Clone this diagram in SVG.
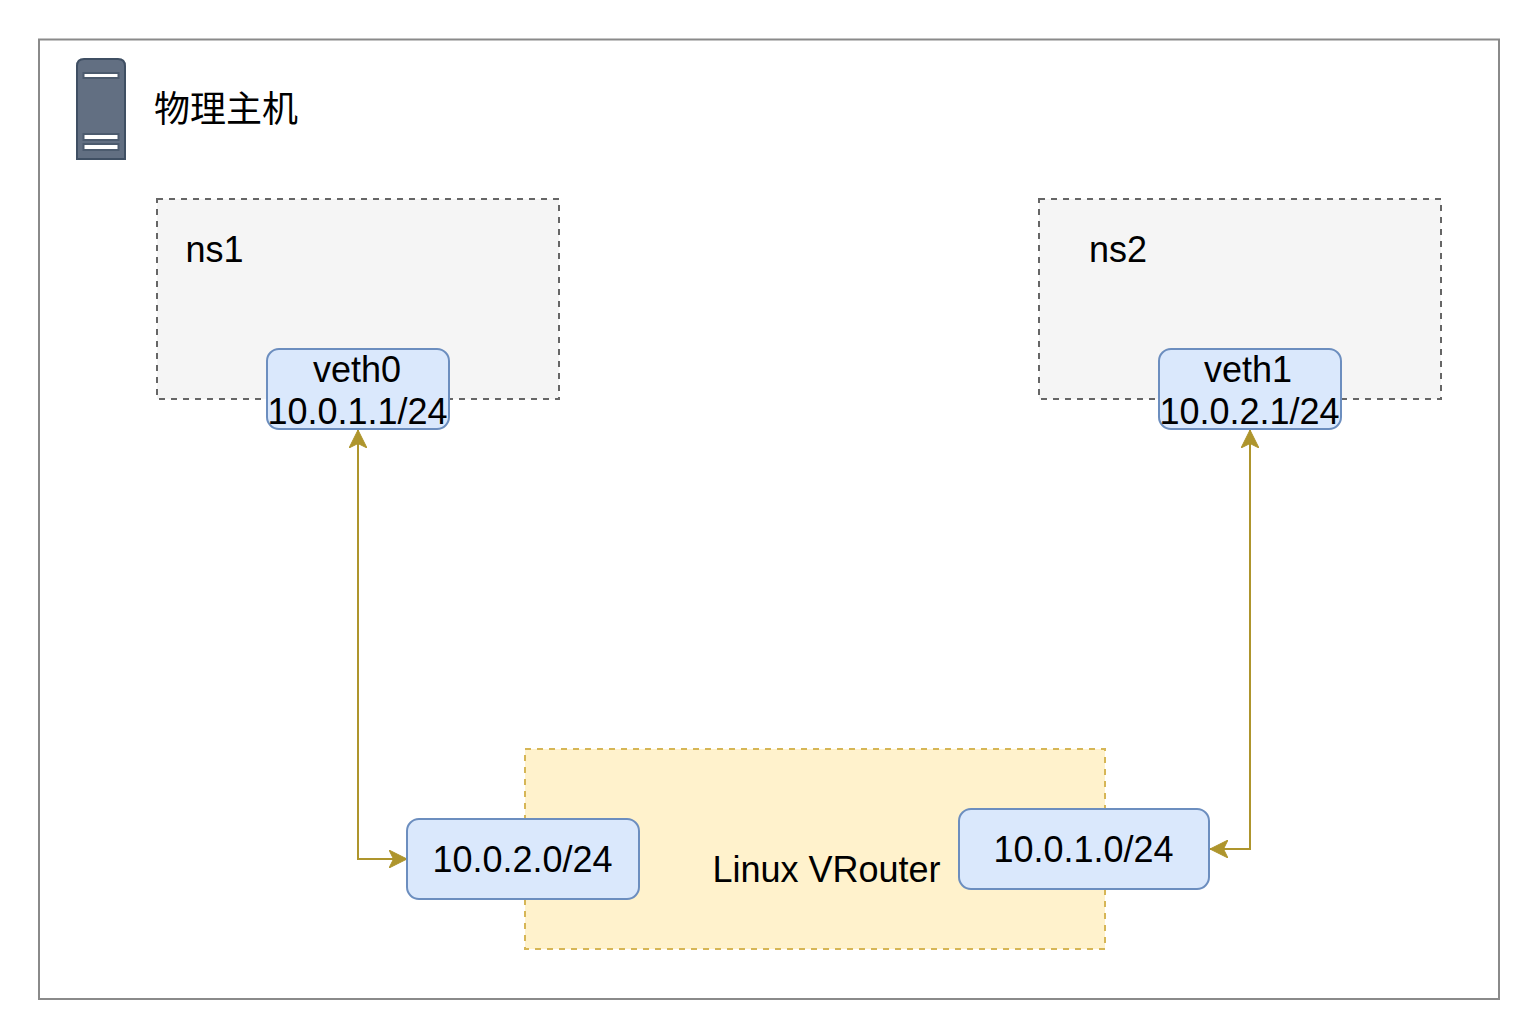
<svg xmlns="http://www.w3.org/2000/svg" width="1534" height="1028" viewBox="0 0 1534 1028">
<defs>
<style>
text{font-family:"Liberation Sans","Noto Sans CJK SC",sans-serif;font-size:36px;fill:#000;text-anchor:middle}
.if{fill:#dae8fc;stroke:#6c8ebf;stroke-width:2}
.ns{fill:#f5f5f5;stroke:#666;stroke-width:2;stroke-dasharray:6 6}
.vr{fill:#fff2cc;stroke:#d6b656;stroke-width:2;stroke-dasharray:6 6}
.conn{fill:none;stroke:#ae952d;stroke-width:2}
</style>
<marker id="arrow" viewBox="0 0 18 18" refX="18" refY="9" markerWidth="18" markerHeight="18" markerUnits="userSpaceOnUse" orient="auto-start-reverse"><path d="M0 0L18 9L0 18L4.500 9Z" fill="#ae952d" stroke="#ae952d" stroke-width="1"/></marker>
</defs>
<rect width="1534" height="1028" fill="#fff"/>
<g id="host"><rect x="39" y="39.500" width="1460" height="959.500" fill="#fff" stroke="#8a8a8a" stroke-width="2"/></g>
<g id="server">
<path d="M77 159V66Q77 59 84 59H118Q125 59 125 66V159Z" fill="#626f82" stroke="#3f4f63" stroke-width="2"/>
<g fill="#fff" stroke="#4c5b6e" stroke-width="2"><rect x="83.500" y="73" width="35" height="5"/><rect x="83.500" y="134" width="35" height="6"/><rect x="83.500" y="144" width="35" height="6"/></g>
<text x="226" y="122">物理主机</text>
</g>
<g id="ns1"><rect class="ns" x="157" y="199" width="402" height="200"/><text x="214.500" y="262">ns1</text></g>
<g id="ns2"><rect class="ns" x="1039" y="199" width="402" height="200"/><text x="1118" y="262">ns2</text></g>
<g id="vrouter"><rect class="vr" x="525" y="749" width="580" height="200"/><text x="826.500" y="882">Linux VRouter</text></g>
<g id="connectors">
<path class="conn" d="M358 430V859H407" marker-start="url(#arrow)" marker-end="url(#arrow)"/>
<path class="conn" d="M1250 430V849H1210" marker-start="url(#arrow)" marker-end="url(#arrow)"/>
</g>
<g id="veth0"><rect class="if" x="267" y="349" width="182" height="80" rx="12"/><text x="357" y="382">veth0</text><text x="357.500" y="424">10.0.1.1/24</text></g>
<g id="veth1"><rect class="if" x="1159" y="349" width="182" height="80" rx="12"/><text x="1248" y="382">veth1</text><text x="1249.500" y="424">10.0.2.1/24</text></g>
<g id="if-left"><rect class="if" x="407" y="819" width="232" height="80" rx="12"/><text x="522.500" y="872">10.0.2.0/24</text></g>
<g id="if-right"><rect class="if" x="959" y="809" width="250" height="80" rx="12"/><text x="1083.500" y="862">10.0.1.0/24</text></g>
</svg>
